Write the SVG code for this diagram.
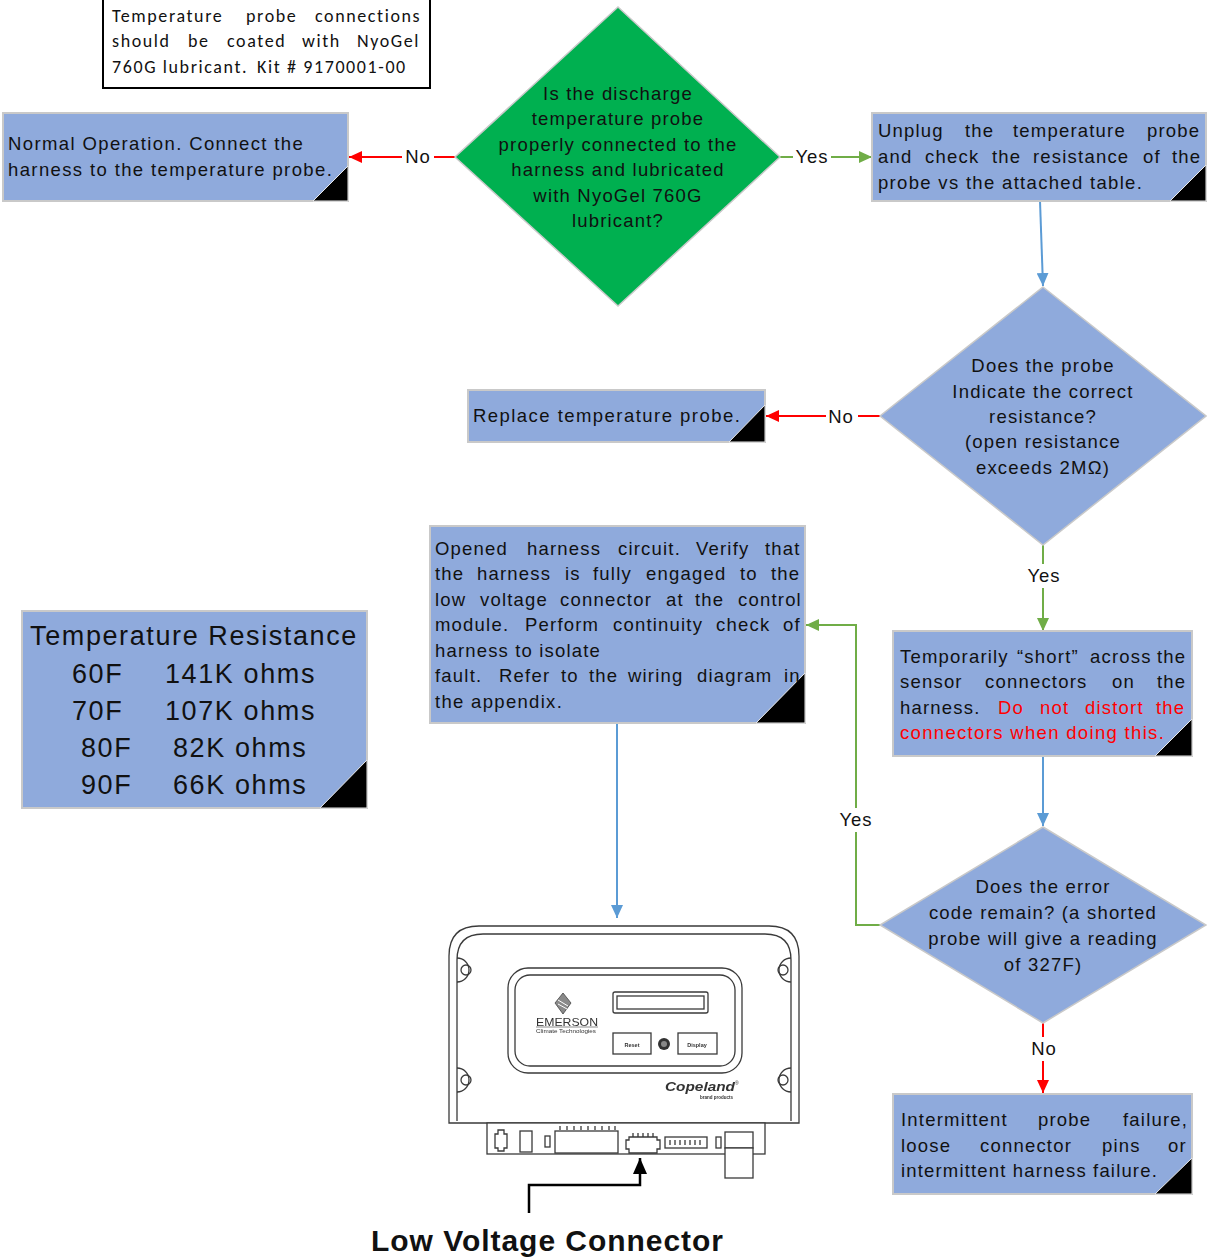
<svg xmlns="http://www.w3.org/2000/svg" width="1207" height="1258" viewBox="0 0 1207 1258">
  <defs>
    <style>
      .box { fill: #8FAADC; stroke: #C9C9C9; stroke-width: 2; }
      .dia { fill: #8FAADC; stroke: #C9C9C9; stroke-width: 1.5; }
      .dia-go { fill: #00B050; stroke: #C9C9C9; stroke-width: 1.5; }
      .fold { fill: #000; stroke: #E8E8E8; stroke-width: 1; }
      .t { font-family: "Liberation Sans", Arial, sans-serif; font-size: 18.5px; letter-spacing: 1.2px; fill: #111; }
      .c { text-anchor: middle; }
      .red { fill: #FF0000; }
      .note { font-family: Carlito, Lato, "Liberation Sans", sans-serif; font-size: 18px; letter-spacing: 1.6px; fill: #111; }
      .tbl { font-family: "Liberation Sans", Arial, sans-serif; font-size: 27px; letter-spacing: 1.6px; fill: #111; }
      .lbl { font-family: "Liberation Sans", Arial, sans-serif; font-size: 18.5px; letter-spacing: 1px; fill: #111; text-anchor: middle; }
      .lblbg { fill: #fff; }
      .ln-blue { fill: none; stroke: #5B9BD5; stroke-width: 2; }
      .ln-green { fill: none; stroke: #70AD47; stroke-width: 2; }
      .ln-red { fill: none; stroke: #FF0000; stroke-width: 2; }
      .ln-black { fill: none; stroke: #000; stroke-width: 2.5; }
      .dev { fill: none; stroke: #3a3a3a; stroke-width: 1.3; }
      .devf { fill: #fff; stroke: #3a3a3a; stroke-width: 1.3; }
      .tiny { font-family: "Liberation Sans", Arial, sans-serif; fill: #333; }
      .caption { font-family: "Liberation Sans", Arial, sans-serif; font-size: 30px; font-weight: bold; fill: #111; }
    </style>
    <marker id="ah-red" viewBox="0 0 13 12" refX="13" refY="6" markerWidth="13" markerHeight="12" markerUnits="userSpaceOnUse" orient="auto">
      <path d="M0,0 L13,6 L0,12 z" fill="#FF0000"/>
    </marker>
    <marker id="ah-green" viewBox="0 0 13 12" refX="13" refY="6" markerWidth="13" markerHeight="12" markerUnits="userSpaceOnUse" orient="auto">
      <path d="M0,0 L13,6 L0,12 z" fill="#70AD47"/>
    </marker>
    <marker id="ah-blue" viewBox="0 0 13 12" refX="13" refY="6" markerWidth="13" markerHeight="12" markerUnits="userSpaceOnUse" orient="auto">
      <path d="M0,0 L13,6 L0,12 z" fill="#5B9BD5"/>
    </marker>
    <marker id="ah-black" viewBox="0 0 16 14" refX="16" refY="7" markerWidth="16" markerHeight="14" markerUnits="userSpaceOnUse" orient="auto">
      <path d="M0,0 L16,7 L0,14 z" fill="#000"/>
    </marker>
    <filter id="soft" x="-5%" y="-5%" width="110%" height="110%">
      <feGaussianBlur stdDeviation="0.45"/>
    </filter>
  </defs>

  <rect width="1207" height="1258" fill="#fff"/>

  <!-- connectors -->
  <g id="connectors">
    <line class="ln-red" x1="455" y1="157" x2="349" y2="157" marker-end="url(#ah-red)"/>
    <line class="ln-green" x1="780" y1="157" x2="872" y2="157" marker-end="url(#ah-green)"/>
    <line class="ln-blue" x1="1040" y1="201" x2="1043" y2="286" marker-end="url(#ah-blue)"/>
    <line class="ln-red" x1="880" y1="416" x2="766" y2="416" marker-end="url(#ah-red)"/>
    <line class="ln-green" x1="1043" y1="545" x2="1043" y2="631" marker-end="url(#ah-green)"/>
    <line class="ln-blue" x1="1043" y1="756" x2="1043" y2="826" marker-end="url(#ah-blue)"/>
    <polyline class="ln-green" points="880,925 856,925 856,625 806,625" marker-end="url(#ah-green)"/>
    <line class="ln-red" x1="1043" y1="1023" x2="1043" y2="1093" marker-end="url(#ah-red)"/>
    <line class="ln-blue" x1="617" y1="724" x2="617" y2="918" marker-end="url(#ah-blue)"/>
    <polyline class="ln-black" points="529,1213 529,1185 640,1185 640,1158" marker-end="url(#ah-black)"/>

    <rect class="lblbg" x="402" y="146" width="32" height="22"/>
    <text class="lbl" x="418" y="163">No</text>
    <rect class="lblbg" x="793" y="146" width="38" height="22"/>
    <text class="lbl" x="812" y="163">Yes</text>
    <rect class="lblbg" x="826" y="405" width="32" height="22"/>
    <text class="lbl" x="841" y="423">No</text>
    <rect class="lblbg" x="1025" y="564" width="38" height="24"/>
    <text class="lbl" x="1044" y="582">Yes</text>
    <rect class="lblbg" x="837" y="808" width="38" height="24"/>
    <text class="lbl" x="856" y="826">Yes</text>
    <rect class="lblbg" x="1028" y="1037" width="32" height="24"/>
    <text class="lbl" x="1044" y="1055">No</text>
  </g>

  <!-- lubrication note -->
  <g id="note">
    <rect x="103" y="-2" width="327" height="90" fill="#fff" stroke="#000" stroke-width="2"/>
    <text class="note" y="22"><tspan x="112">Temperature</tspan><tspan x="246">probe</tspan><tspan x="315">connections</tspan></text>
    <text class="note" y="47"><tspan x="112">should</tspan><tspan x="188">be</tspan><tspan x="227">coated</tspan><tspan x="302">with</tspan><tspan x="357">NyoGel</tspan></text>
    <text class="note" y="73"><tspan x="112">760G lubricant.</tspan><tspan x="257">Kit # 9170001-00</tspan></text>
  </g>

  <!-- normal operation -->
  <g id="normal-op">
    <rect class="box" x="3" y="113" width="345" height="88"/>
    <polygon class="fold" points="348,166 348,201 313,201"/>
    <text class="t" x="8" y="150" textLength="296" lengthAdjust="spacing">Normal Operation. Connect the</text>
    <text class="t" x="8" y="176" textLength="325" lengthAdjust="spacing">harness to the temperature probe.</text>
  </g>

  <!-- first decision -->
  <g id="probe-connected">
    <polygon class="dia-go" points="618,7 780,157 618,306 455,157"/>
    <text class="t c" x="618" y="100">Is the discharge</text>
    <text class="t c" x="618" y="125">temperature probe</text>
    <text class="t c" x="618" y="151">properly connected to the</text>
    <text class="t c" x="618" y="176">harness and lubricated</text>
    <text class="t c" x="618" y="202">with NyoGel 760G</text>
    <text class="t c" x="618" y="227">lubricant?</text>
  </g>

  <!-- unplug and measure -->
  <g id="unplug">
    <rect class="box" x="872" y="113" width="334" height="88"/>
    <polygon class="fold" points="1206,165 1206,201 1170,201"/>
    <text class="t" y="137"><tspan x="878">Unplug</tspan><tspan x="965">the</tspan><tspan x="1013">temperature</tspan><tspan x="1147">probe</tspan></text>
    <text class="t" y="163"><tspan x="878">and</tspan><tspan x="925">check</tspan><tspan x="992">the</tspan><tspan x="1033">resistance</tspan><tspan x="1143">of</tspan><tspan x="1172">the</tspan></text>
    <text class="t" x="878" y="189" textLength="265" lengthAdjust="spacing">probe vs the attached table.</text>
  </g>

  <!-- resistance decision -->
  <g id="resistance-ok">
    <polygon class="dia" points="1043,287 1206,416 1043,545 880,416"/>
    <text class="t c" x="1043" y="372">Does the probe</text>
    <text class="t c" x="1043" y="398">Indicate the correct</text>
    <text class="t c" x="1043" y="423">resistance?</text>
    <text class="t c" x="1043" y="448">(open resistance</text>
    <text class="t c" x="1043" y="474">exceeds 2MΩ)</text>
  </g>

  <!-- replace probe -->
  <g id="replace-probe">
    <rect class="box" x="468" y="390" width="297" height="52"/>
    <polygon class="fold" points="765,405 765,442 729,442"/>
    <text class="t" x="473" y="422" textLength="268" lengthAdjust="spacing">Replace temperature probe.</text>
  </g>

  <!-- open harness -->
  <g id="open-harness">
    <rect class="box" x="430" y="526" width="375" height="197"/>
    <polygon class="fold" points="805,673 805,723 756,723"/>
    <text class="t" y="555"><tspan x="435">Opened</tspan><tspan x="527">harness</tspan><tspan x="618">circuit.</tspan><tspan x="696">Verify</tspan><tspan x="765">that</tspan></text>
    <text class="t" y="580"><tspan x="435">the</tspan><tspan x="477">harness</tspan><tspan x="565">is</tspan><tspan x="593">fully</tspan><tspan x="646">engaged</tspan><tspan x="740">to</tspan><tspan x="771">the</tspan></text>
    <text class="t" y="606"><tspan x="435">low</tspan><tspan x="480">voltage</tspan><tspan x="560">connector</tspan><tspan x="666">at</tspan><tspan x="695">the</tspan><tspan x="738">control</tspan></text>
    <text class="t" y="631"><tspan x="435">module.</tspan><tspan x="525">Perform</tspan><tspan x="613">continuity</tspan><tspan x="716">check</tspan><tspan x="783">of</tspan></text>
    <text class="t" x="435" y="657" textLength="166" lengthAdjust="spacing">harness to isolate</text>
    <text class="t" y="682"><tspan x="435">fault.</tspan><tspan x="499">Refer</tspan><tspan x="561">to</tspan><tspan x="589">the</tspan><tspan x="628">wiring</tspan><tspan x="697">diagram</tspan><tspan x="784">in</tspan></text>
    <text class="t" x="435" y="708" textLength="128" lengthAdjust="spacing">the appendix.</text>
  </g>

  <!-- short the sensor -->
  <g id="short-sensor">
    <rect class="box" x="893" y="631" width="299" height="125"/>
    <polygon class="fold" points="1192,719 1192,756 1155,756"/>
    <text class="t" y="663"><tspan x="900">Temporarily</tspan><tspan x="1017">“short”</tspan><tspan x="1090">across</tspan><tspan x="1157">the</tspan></text>
    <text class="t" y="688"><tspan x="900">sensor</tspan><tspan x="985">connectors</tspan><tspan x="1112">on</tspan><tspan x="1157">the</tspan></text>
    <text class="t" y="714"><tspan x="900">harness.</tspan><tspan class="red" x="998">Do</tspan><tspan class="red" x="1040">not</tspan><tspan class="red" x="1085">distort</tspan><tspan class="red" x="1156">the</tspan></text>
    <text class="t red" x="900" y="739" textLength="265" lengthAdjust="spacing">connectors when doing this.</text>
  </g>

  <!-- error code decision -->
  <g id="error-remains">
    <polygon class="dia" points="1043,827 1206,925 1043,1023 880,925"/>
    <text class="t c" x="1043" y="893">Does the error</text>
    <text class="t c" x="1043" y="919">code remain? (a shorted</text>
    <text class="t c" x="1043" y="945">probe will give a reading</text>
    <text class="t c" x="1043" y="971">of 327F)</text>
  </g>

  <!-- intermittent failure -->
  <g id="intermittent">
    <rect class="box" x="893" y="1094" width="299" height="100"/>
    <polygon class="fold" points="1192,1158 1192,1194 1155,1194"/>
    <text class="t" y="1126"><tspan x="901">Intermittent</tspan><tspan x="1038">probe</tspan><tspan x="1123">failure,</tspan></text>
    <text class="t" y="1152"><tspan x="901">loose</tspan><tspan x="980">connector</tspan><tspan x="1102">pins</tspan><tspan x="1168">or</tspan></text>
    <text class="t" x="901" y="1177" textLength="257" lengthAdjust="spacing">intermittent harness failure.</text>
  </g>

  <!-- resistance table -->
  <g id="resistance-table">
    <rect class="box" x="22" y="611" width="345" height="197"/>
    <polygon class="fold" points="367,760 367,808 320,808"/>
    <text class="tbl c" x="194" y="645">Temperature Resistance</text>
    <text class="tbl" y="683"><tspan x="72">60F</tspan><tspan x="165">141K ohms</tspan></text>
    <text class="tbl" y="720"><tspan x="72">70F</tspan><tspan x="165">107K ohms</tspan></text>
    <text class="tbl" y="757"><tspan x="81">80F</tspan><tspan x="173">82K ohms</tspan></text>
    <text class="tbl" y="794"><tspan x="81">90F</tspan><tspan x="173">66K ohms</tspan></text>
  </g>

  <!-- control module sketch -->
  <g id="control-module" filter="url(#soft)">
    <!-- housing with double rim -->
    <path class="dev" d="M449,1123 V956 Q449,926 479,926 H769 Q799,926 799,956 V1123 Z" stroke-width="1.8"/>
    <path class="dev" d="M457,1121 V960 Q457,934 483,934 H765 Q791,934 791,960 V1121"/>
    <!-- mounting holes -->
    <path class="dev" d="M457,958 A12,12 0 0 1 457,982 M791,958 A12,12 0 0 0 791,982 M457,1068 A12,12 0 0 1 457,1092 M791,1068 A12,12 0 0 0 791,1092"/>
    <circle class="dev" cx="466" cy="970" r="5"/>
    <circle class="dev" cx="783" cy="970" r="5"/>
    <circle class="dev" cx="466" cy="1080" r="5"/>
    <circle class="dev" cx="783" cy="1080" r="5"/>
    <!-- display bezel -->
    <rect class="dev" x="508" y="968" width="234" height="105" rx="20" stroke-width="1.8"/>
    <rect class="dev" x="515" y="975" width="220" height="91" rx="15"/>
    <rect class="dev" x="613" y="992" width="95" height="21" rx="2" stroke-width="1.8"/>
    <rect class="dev" x="617" y="996" width="87" height="13"/>
    <rect class="dev" x="613" y="1033" width="38" height="21"/>
    <text class="tiny" x="632" y="1047" font-size="5.5" font-weight="bold" text-anchor="middle">Reset</text>
    <circle cx="664" cy="1044" r="6" fill="#333"/>
    <circle cx="664" cy="1044" r="3" fill="#888"/>
    <rect class="dev" x="678" y="1033" width="39" height="21"/>
    <text class="tiny" x="697" y="1047" font-size="5.5" font-weight="bold" text-anchor="middle">Display</text>
    <!-- brand marks -->
    <polygon points="563,993 571,1003 563,1014 555,1003" fill="#8a8a8a" stroke="#444" stroke-width="0.8"/>
    <path d="M558,1000 L568,1006 M558,1004 L567,1009" stroke="#fff" stroke-width="1"/>
    <text class="tiny" x="536" y="1026" font-size="11" textLength="62" lengthAdjust="spacingAndGlyphs">EMERSON</text>
    <line x1="536" y1="1027" x2="598" y2="1027" stroke="#444" stroke-width="0.6"/>
    <text class="tiny" x="536" y="1033" font-size="5" textLength="60" lengthAdjust="spacingAndGlyphs">Climate Technologies</text>
    <text class="tiny" x="665" y="1091" font-size="12" font-style="italic" font-weight="bold" fill="#777" textLength="70" lengthAdjust="spacingAndGlyphs">Copeland</text>
    <text class="tiny" x="735" y="1085" font-size="5">®</text>
    <text class="tiny" x="733" y="1099" font-size="4.5" font-weight="bold" text-anchor="end">brand products</text>
    <!-- connector strip -->
    <rect class="devf" x="487" y="1123" width="278" height="31"/>
    <path class="dev" d="M495,1134 h3 v-4 h6 v4 h3 v14 h-3 v3 h-6 v-3 h-3 z"/>
    <rect class="dev" x="520" y="1131" width="12" height="21"/>
    <rect class="dev" x="545" y="1136" width="5" height="11"/>
    <rect class="dev" x="555" y="1131" width="63" height="22"/>
    <path class="dev" d="M560,1126v4M567,1126v4M574,1126v4M581,1126v4M588,1126v4M595,1126v4M602,1126v4M609,1126v4M615,1126v4"/>
    <path class="dev" d="M626,1140 h3 v-3 h28 v3 h3 v9 h-3 v4 h-28 v-4 h-3 z"/>
    <path class="dev" d="M633,1133v4M638,1133v4M643,1133v4M648,1133v4M653,1133v4"/>
    <rect class="dev" x="665" y="1137" width="42" height="11"/>
    <path class="dev" d="M670,1140v5M675,1140v5M680,1140v5M685,1140v5M690,1140v5M695,1140v5M700,1140v5"/>
    <rect class="dev" x="716" y="1137" width="5" height="11"/>
    <rect class="dev" x="725" y="1132" width="28" height="16"/>
    <rect class="devf" x="725" y="1148" width="28" height="30"/>
  </g>

  <text class="caption" x="371" y="1251" textLength="352" lengthAdjust="spacing">Low Voltage Connector</text>
</svg>
